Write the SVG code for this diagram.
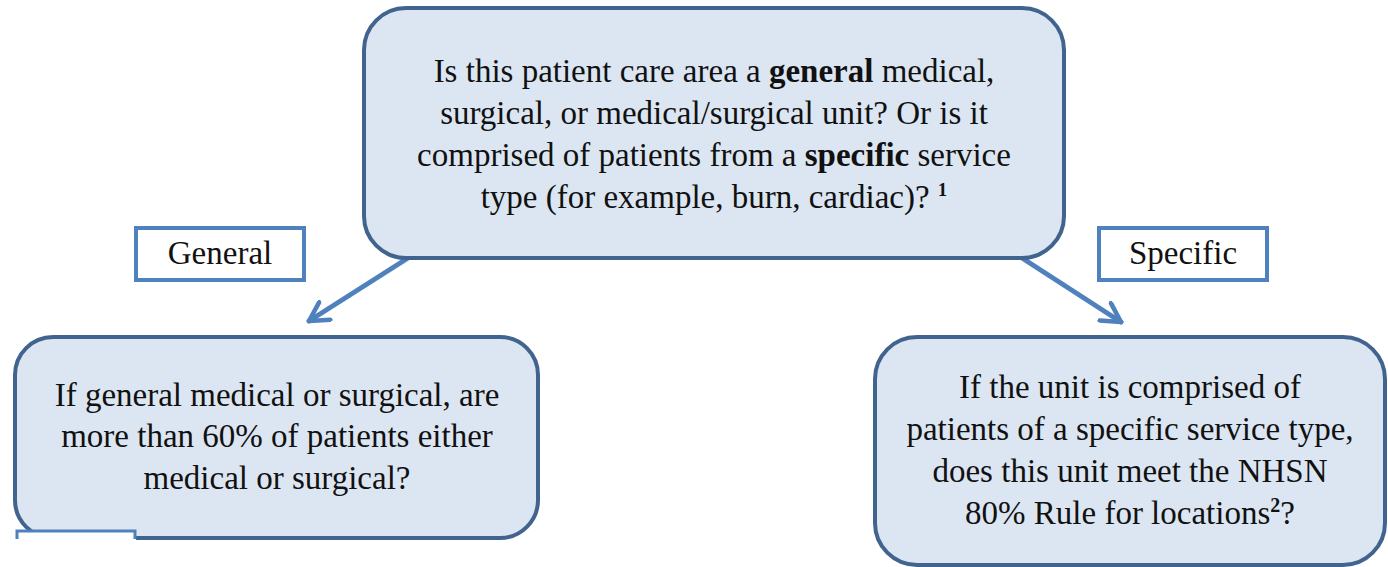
<svg xmlns="http://www.w3.org/2000/svg" width="1388" height="567" viewBox="0 0 1388 567">
<defs>
<style>
.box{fill:#dce6f2;stroke:#41648f;stroke-width:4}
.lbl{fill:#ffffff;stroke:#4f81bd;stroke-width:4}
.t{font-family:"Liberation Serif","Times New Roman",serif;font-size:33px;fill:#111;text-anchor:middle}
.conn{stroke:#4f81bd;stroke-width:5;fill:none;stroke-linecap:round}
</style>
<marker id="ah" viewBox="0 0 12 12" refX="10" refY="6" markerWidth="5" markerHeight="5" orient="auto" markerUnits="strokeWidth">
<path d="M1,1 L10,6 L1,11" fill="none" stroke="#4f81bd" stroke-width="2.2" stroke-linecap="round" stroke-linejoin="round"/>
</marker>
</defs>
<rect width="1388" height="567" fill="#ffffff"/>
<g id="connectors">
<line class="conn" x1="408" y1="258" x2="309" y2="321" marker-end="url(#ah)"/>
<line class="conn" x1="1022" y1="258" x2="1121" y2="322" marker-end="url(#ah)"/>
</g>
<g id="node-question">
<rect class="box" x="364" y="8" width="700" height="250" rx="42"/>
<text class="t" x="714" y="82">Is this patient care area a <tspan font-weight="bold">general</tspan> medical,</text>
<text class="t" x="714" y="124">surgical, or medical/surgical unit? Or is it</text>
<text class="t" x="714" y="166">comprised of patients from a <tspan font-weight="bold">specific</tspan> service</text>
<text class="t" x="714" y="208">type (for example, burn, cardiac)? <tspan font-weight="bold" font-size="19" dy="-12">1</tspan></text>
</g>
<g id="label-general">
<rect class="lbl" x="136" y="228" width="168" height="52"/>
<text class="t" x="220" y="264">General</text>
</g>
<g id="label-specific">
<rect class="lbl" x="1099" y="228" width="168" height="52"/>
<text class="t" x="1183" y="264">Specific</text>
</g>
<g id="node-general">
<rect class="box" x="15" y="337" width="523" height="201" rx="38"/>
<rect x="16" y="531" width="120" height="36" fill="#ffffff"/>
<path d="M17,539 L17,531 L135,531 L135,539" fill="none" stroke="#4f81bd" stroke-width="3"/>
<text class="t" x="277" y="406">If general medical or surgical, are</text>
<text class="t" x="277" y="447">more than 60% of patients either</text>
<text class="t" x="277" y="489">medical or surgical?</text>
</g>
<g id="node-specific">
<rect class="box" x="875" y="337" width="510" height="228" rx="42"/>
<text class="t" x="1130" y="398">If the unit is comprised of</text>
<text class="t" x="1130" y="440">patients of a specific service type,</text>
<text class="t" x="1130" y="482">does this unit meet the NHSN</text>
<text class="t" x="1130" y="524">80% Rule for locations<tspan font-weight="bold" font-size="20" dy="-12">2</tspan><tspan dy="12">?</tspan></text>
</g>
</svg>
